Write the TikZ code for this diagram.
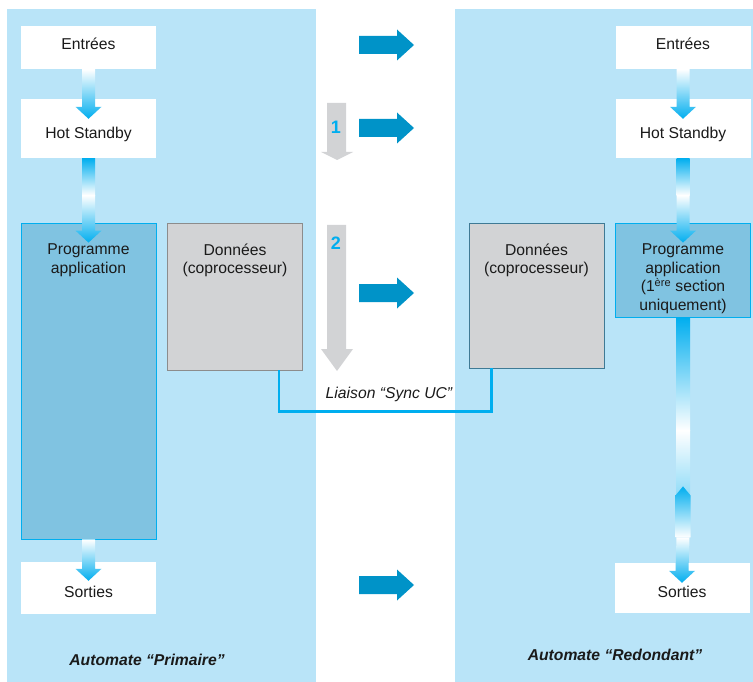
\documentclass[tikz,border=0pt]{standalone}
\usepackage{fontspec}
\setmainfont{Liberation Sans}
\usepackage{xcolor}
\usetikzlibrary{calc,positioning}
\definecolor{Panel}{HTML}{B9E4F8}
\definecolor{ProgFill}{HTML}{80C3E1}
\definecolor{Cyan}{HTML}{00AEEF}
\definecolor{Sea}{HTML}{0093C8}
\definecolor{Stone}{HTML}{D2D3D5}
\definecolor{StoneLine}{HTML}{8C8C8C}
\definecolor{Slate}{HTML}{3F7A95}
\definecolor{Ink}{HTML}{1A1A1A}
\newcommand{\flow}[4]{\shade[top color=#3,bottom color=#4] ($(#1)+(-6.5,0)$) -- ($(#2)+(-6.5,-12)$) -- ($(#2)+(-13,-12)$) -- (#2) -- ($(#2)+(13,-12)$) -- ($(#2)+(6.5,-12)$) -- ($(#1)+(6.5,0)$) -- cycle;}
\newcommand{\relay}[1]{\fill[Sea] ($(#1)+(-27.5,-9)$) -- ++(38,0) -- ++(0,-6.5) -- ++(17,15.5) -- ++(-17,15.5) -- ++(0,-6.5) -- ++(-38,0) -- cycle;}
\tikzset{
  io/.style={fill=white,minimum width=135pt,inner sep=0pt,text=Ink,font=\fontsize{15.7}{18.5}\selectfont},
  prog/.style={draw=Cyan,fill=ProgFill,line width=0.8pt,minimum width=135pt,inner sep=0pt},
  data/.style={draw=StoneLine,fill=Stone,line width=0.8pt,minimum width=135pt,inner sep=0pt},
  txt/.style={align=center,inner sep=0pt,text=Ink,font=\fontsize{15.7}{18.5}\selectfont},
  caption/.style={inner sep=0pt,text=Ink,font=\fontsize{15.7}{18.5}\selectfont\bfseries\itshape},
  sync/.style={draw=Cyan,line width=2.5pt},
  num/.style={inner sep=0pt,text=Cyan,font=\fontsize{18}{20}\selectfont\bfseries}
}

\begin{document}
\begin{tikzpicture}[x=1pt,y=-1pt]
  \useasboundingbox (0,0) rectangle (753,682);
  \fill[Panel] (7,9) rectangle (316,682);
  \fill[Panel] (455,9) rectangle (753,682);

  % primaire
  \node[io,minimum height=43pt,text height=11.5pt,text depth=7pt] (inL) at (88.5,47.5) {Entrées};
  \node[io,minimum height=59pt,text height=19.5pt,text depth=0pt] (hsL) at (88.5,128.5) {Hot Standby};
  \node[prog,minimum height=316pt] (progL) at (88.5,381) {};
  \node[data,minimum height=147pt] (dataL) at (235,296.5) {};
  \node[io,minimum height=52pt,text height=19pt,text depth=0pt] (sortL) at (88.5,588) {Sorties};
  \node[txt,anchor=north] (progLtxt) at ($(progL.north)+(0,21)$) {Programme\\application};
  \node[txt,anchor=north] (dataLtxt) at ($(dataL.north)+(0,21)$) {Données\\(coprocesseur)};

  % redondant
  \node[io,minimum height=43pt,text height=11.5pt,text depth=7pt] (inR) at (683,47.5) {Entrées};
  \node[io,minimum height=59pt,text height=19.5pt,text depth=0pt] (hsR) at (683,128.5) {Hot Standby};
  \node[prog,minimum height=94pt] (progR) at (683,270) {};
  \node[data,draw=Slate,minimum height=145pt] (dataR) at (536.5,295.5) {};
  \node[io,minimum height=50pt,text height=19pt,text depth=0pt] (sortR) at (682,588) {Sorties};
  \node[txt,anchor=north] (progRtxt) at ($(progR.north)+(0,21)$) {Programme\\application\\(1\textsuperscript{ère} section\\uniquement)};
  \node[txt,anchor=north] (dataRtxt) at ($(dataR.north)+(0,21)$) {Données\\(coprocesseur)};

  % flux
  \coordinate (tipL1) at ($(hsL.north)+(0,20)$);
  \coordinate (midL) at ($(hsL.south)+(0,37)$);
  \coordinate (tipL2) at ($(progL.north)+(0,20)$);
  \coordinate (tipL3) at ($(sortL.north)+(0,19)$);
  \flow{inL.south}{tipL1}{white}{Cyan}
  \shade[top color=Cyan,bottom color=white] ($(hsL.south)+(-6.5,0)$) rectangle ($(midL)+(6.5,0)$);
  \flow{midL}{tipL2}{white}{Cyan}
  \flow{progL.south}{tipL3}{white}{Cyan}

  \coordinate (tipR1) at ($(hsR.north)+(0,20)$);
  \coordinate (midR) at ($(hsR.south)+(0,37)$);
  \coordinate (tipR2) at ($(progR.north)+(0,20)$);
  \coordinate (fadeR) at ($(progR.south)+(0,113)$);
  \coordinate (upR) at ($(progR.south)+(0,169)$);
  \coordinate (backR) at ($(progR.south)+(0,220)$);
  \coordinate (tipR3) at ($(sortR.north)+(0,20)$);
  \flow{inR.south}{tipR1}{white}{Cyan}
  \shade[top color=Cyan,bottom color=white] ($(hsR.south)+(-6.5,0)$) rectangle ($(midR)+(6.5,0)$);
  \flow{midR}{tipR2}{white}{Cyan}
  \shade[top color=Cyan,bottom color=white] ($(progR.south)+(-7,0)$) rectangle ($(fadeR)+(7,0)$);
  \shade[top color=white,bottom color=Cyan!45] ($(fadeR)+(-7,0)$) rectangle ($(progR.south)+(7,180)$);
  \shade[top color=Cyan,bottom color=white] (upR) -- ++(7.5,9) -- ($(backR)+(7.5,0)$) -- ($(backR)+(-7.5,0)$) -- ($(upR)+(-7.5,9)$) -- cycle;
  \flow{backR}{tipR3}{white}{Cyan}

  % liaison
  \coordinate (syncA) at ($(dataL.south east)+(-24,0)$);
  \coordinate (syncB) at ($(dataR.south west)+(23,0)$);
  \draw[sync] (syncA) -- ++(0,41) -| (syncB);
  \node[txt,font=\fontsize{15.7}{18.5}\selectfont\itshape] (liaison) at (389,394) {Liaison “Sync UC”};

  % etapes
  \fill[Stone] (327,103) -- (327,152) -- (321,152) -- (337,160) -- (353,152) -- (346,152) -- (346,103) -- cycle;
  \fill[Stone] (327,225) -- (327,349) -- (321,349) -- (337,371) -- (353,349) -- (346,349) -- (346,225) -- cycle;
  \node[num] (n1) at (336,127) {1};
  \node[num] (n2) at (336,243) {2};

  \coordinate (r1) at (386.5,45);
  \coordinate (r2) at (386.5,128);
  \coordinate (r3) at (386.5,293);
  \coordinate (r4) at (386.5,585);
  \relay{r1}
  \relay{r2}
  \relay{r3}
  \relay{r4}

  \node[caption] (capL) at (147,660) {Automate “Primaire”};
  \node[caption] (capR) at (615,655) {Automate “Redondant”};
\end{tikzpicture}
\end{document}
